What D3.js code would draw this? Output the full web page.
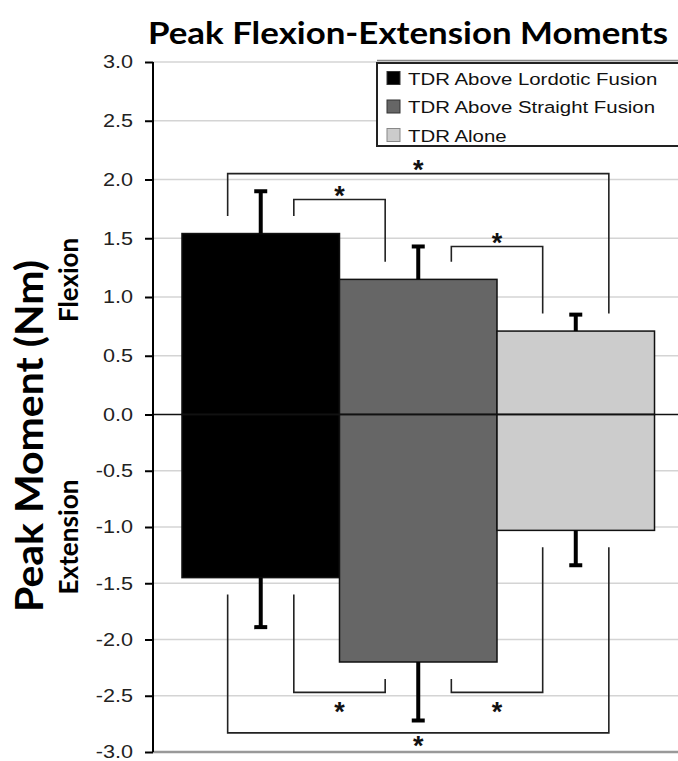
<!DOCTYPE html>
<html>
<head>
<meta charset="utf-8">
<script src="https://cdn.jsdelivr.net/npm/d3@7"></script>
<style>
  html, body { margin: 0; padding: 0; background: #fff; }
  svg { display: block; }
</style>
</head>
<body>
<div id="chart"></div>
<script>
// ── data ──
const categories    = ['TDR Above Lordotic Fusion', 'TDR Above Straight Fusion', 'TDR Alone'];
const barColors     = ['#000000', '#666666', '#cccccc'];
const flexionMean   = [1.54, 1.15, 0.71];
const flexionSD     = [0.36, 0.28, 0.14];
const extensionMean = [-1.45, -2.20, -1.03];
const extensionSD   = [0.44, 0.52, 0.31];
const yTicks        = [-3, -2.5, -2, -1.5, -1, -0.5, 0, 0.5, 1, 1.5, 2, 2.5, 3];
// significant pairs: [group a, group b, bracket level in Nm]
const flexionSig    = [[0, 1, 1.83], [1, 2, 1.43], [0, 2, 2.05]];
const extensionSig  = [[0, 1, -2.47], [1, 2, -2.47], [0, 2, -2.83]];

const W = 678, H = 761;
const SX = 1.2; // the source figure is stretched horizontally
const axisX = 153;

const svg = d3.select('#chart').append('svg')
  .attr('width', W).attr('height', H);

const y = d3.scaleLinear([-3, 0, 3], [752, 414.5, 62]);
const x = d3.scaleBand(d3.range(categories.length), [axisX, 683.5])
  .paddingInner(0).paddingOuter(0.184);
const cx = i => x(i) + x.bandwidth() / 2;

// gridlines
svg.append('g').selectAll('line')
  .data(yTicks.filter(t => t !== 0 && t !== -3))
  .join('line')
  .attr('x1', axisX).attr('x2', W)
  .attr('y1', d => y(d)).attr('y2', d => y(d))
  .attr('stroke', '#d4d4d4').attr('stroke-width', 1.5);

// bottom baseline
svg.append('line')
  .attr('x1', axisX).attr('x2', W).attr('y1', y(-3)).attr('y2', y(-3))
  .attr('stroke', '#999').attr('stroke-width', 2.5);

// legend
const lg = svg.append('g').attr('transform', 'translate(377,63)');
lg.append('rect')
  .attr('x', 0).attr('y', 0).attr('width', 330).attr('height', 83)
  .attr('fill', '#fff').attr('stroke', '#222').attr('stroke-width', 2);
lg.append('line').attr('x1', 0).attr('x2', 330).attr('y1', -2.5).attr('y2', -2.5)
  .attr('stroke', '#888').attr('stroke-width', 1.5);
categories.forEach((c, i) => {
  const ry = 15 + i * 28.5;
  lg.append('rect')
    .attr('x', 10).attr('y', ry - 6.5).attr('width', 13).attr('height', 13)
    .attr('fill', barColors[i]).attr('stroke', i === 2 ? '#888' : '#333').attr('stroke-width', 1);
  lg.append('text')
    .attr('transform', `translate(31,${ry + 6.5}) scale(${SX},1)`)
    .attr('font-family', 'Liberation Sans, Arial, sans-serif').attr('font-size', 17)
    .attr('fill', '#111')
    .text(c);
});

// bars
const bars = svg.append('g');
categories.forEach((c, i) => {
  bars.append('rect')
    .attr('x', x(i)).attr('width', x.bandwidth())
    .attr('y', y(flexionMean[i])).attr('height', y(0) - y(flexionMean[i]))
    .attr('fill', barColors[i]).attr('stroke', '#111').attr('stroke-width', 1.5);
  bars.append('rect')
    .attr('x', x(i)).attr('width', x.bandwidth())
    .attr('y', y(0)).attr('height', y(extensionMean[i]) - y(0))
    .attr('fill', barColors[i]).attr('stroke', '#111').attr('stroke-width', 1.5);
});

// zero line
svg.append('line')
  .attr('x1', axisX).attr('x2', W).attr('y1', y(0)).attr('y2', y(0))
  .attr('stroke', '#111').attr('stroke-width', 1.5);

// error bars
const eb = svg.append('g').attr('stroke', '#000').attr('stroke-width', 4);
categories.forEach((c, i) => {
  const ends = [
    [flexionMean[i], flexionMean[i] + flexionSD[i]],
    [extensionMean[i], extensionMean[i] - extensionSD[i]],
  ];
  ends.forEach(([m, e]) => {
    eb.append('line').attr('x1', cx(i)).attr('x2', cx(i)).attr('y1', y(m)).attr('y2', y(e));
    eb.append('line').attr('x1', cx(i) - 6.5).attr('x2', cx(i) + 6.5).attr('y1', y(e)).attr('y2', y(e));
  });
});

// significance brackets
const off = x.bandwidth() * 0.21;
const starSize = 27;
function drawBrackets(list, means, side) {
  const g = svg.append('g');
  list.forEach(([a, b, level]) => {
    const outer = b - a > 1;
    const xa = outer ? cx(a) - off : cx(a) + off;
    const xb = outer ? cx(b) + off : cx(b) - off;
    const ya = y(means[a] + side * 0.15);
    const yb = y(means[b] + side * 0.15);
    const yl = y(level);
    g.append('path')
      .attr('d', `M${xa},${ya}V${yl}H${xb}V${yb}`)
      .attr('fill', 'none').attr('stroke', '#222').attr('stroke-width', 1.6);
    // keep the lowest star inside the canvas
    const starC = side > 0 ? yl - 10 : Math.min(yl + 13, y(-3) - 13);
    g.append('text')
      .attr('x', (xa + xb) / 2).attr('y', starC + starSize * 0.575)
      .attr('text-anchor', 'middle')
      .attr('font-family', 'Liberation Sans, Arial, sans-serif')
      .attr('font-weight', 700).attr('font-size', starSize)
      .attr('fill', '#111')
      .text('*');
  });
}
drawBrackets(flexionSig, flexionMean, 1);
drawBrackets(extensionSig, extensionMean, -1);

// y axis
const ax = svg.append('g')
  .attr('transform', `translate(${axisX},0)`)
  .call(d3.axisLeft(y).tickValues(yTicks).tickSize(8).tickFormat(d => d.toFixed(1)));
ax.select('.domain').attr('stroke', '#000').attr('stroke-width', 2).attr('d', `M0,${y(3)}V${y(-3)}`);
ax.selectAll('.tick line').attr('stroke', '#000').attr('stroke-width', 2);
ax.selectAll('.tick text')
  .attr('x', -20 / SX)
  .attr('transform', `scale(${SX},1)`)
  .attr('font-family', 'Liberation Sans, Arial, sans-serif').attr('font-size', 18)
  .attr('fill', '#222');

// title and axis labels
const lab = 'Lato, "Open Sans", sans-serif';
svg.append('text')
  .attr('x', 148).attr('y', 44)
  .attr('font-family', lab).attr('font-weight', 700).attr('font-size', 31)
  .attr('textLength', 520).attr('lengthAdjust', 'spacingAndGlyphs')
  .attr('fill', '#000')
  .text('Peak Flexion-Extension Moments');

svg.append('text')
  .attr('transform', 'translate(43,436) rotate(-90)')
  .attr('text-anchor', 'middle')
  .attr('font-family', lab).attr('font-weight', 700).attr('font-size', 38)
  .attr('textLength', 352).attr('lengthAdjust', 'spacingAndGlyphs')
  .attr('fill', '#000')
  .text('Peak Moment (Nm)');

svg.append('text')
  .attr('transform', 'translate(78,280) rotate(-90)')
  .attr('text-anchor', 'middle')
  .attr('font-family', lab).attr('font-weight', 700).attr('font-size', 27)
  .attr('textLength', 84).attr('lengthAdjust', 'spacingAndGlyphs')
  .attr('fill', '#000')
  .text('Flexion');

svg.append('text')
  .attr('transform', 'translate(78,537) rotate(-90)')
  .attr('text-anchor', 'middle')
  .attr('font-family', lab).attr('font-weight', 700).attr('font-size', 27)
  .attr('textLength', 115).attr('lengthAdjust', 'spacingAndGlyphs')
  .attr('fill', '#000')
  .text('Extension');
</script>
</body>
</html>
